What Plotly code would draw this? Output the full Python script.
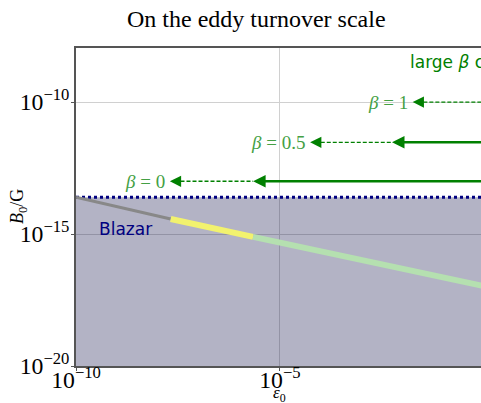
import math
import plotly.graph_objects as go

# B0 vs eps0 line, split into three coloured pieces (log-log straight segments)
seg_eps = [[1e-10, 2.1e-8], [2.1e-8, 2.2e-6], [2.2e-6, 1.0]]
seg_B = [[2.5e-14, 3.7e-15], [3.7e-15, 7.8e-16], [7.8e-16, 1.07e-17]]
seg_colors = ['#888888', '#f2f26e', '#b5e0b0']
seg_widths = [3, 6, 6]

blazar_B = 2.5e-14
B_floor = 1e-20

# arrows: label, B level, dashed tip eps, end of dashed / tip of solid eps
arrow_labels = ['0', '0.5', '1']
arrow_B = [1e-13, 3.0e-12, 1e-10]
arrow_tip = [2.0e-8, 5.5e-5, 1.8e-2]
arrow_mid = [2.2e-6, 5.6e-3, None]
arrow_right = 2.0

GREEN = '#008000'
NAVY = '#000080'
SERIF = 'Liberation Serif'
SANS = 'DejaVu Sans'

fig = go.Figure()

# excluded (shaded) blazar region
fig.add_trace(go.Scatter(
    x=[1e-11, 10, 10, 1e-11], y=[B_floor, B_floor, blazar_B, blazar_B],
    fill='toself', fillcolor='rgba(25,25,80,0.33)', line=dict(width=0),
    mode='lines', hoverinfo='skip'))
fig.add_trace(go.Scatter(
    x=[1e-10, 10], y=[blazar_B, blazar_B], mode='lines',
    line=dict(color=NAVY, width=3, dash='dot')))

for ex, by, c, w in zip(seg_eps, seg_B, seg_colors, seg_widths):
    fig.add_trace(go.Scatter(x=ex, y=by, mode='lines',
                             line=dict(color=c, width=w)))

ann = []
for lab, b, tip, mid in zip(arrow_labels, arrow_B, arrow_tip, arrow_mid):
    right = mid if mid is not None else arrow_right
    # dashed part
    fig.add_trace(go.Scatter(x=[tip * 1.3, right], y=[b, b], mode='lines',
                             line=dict(color=GREEN, width=1.3, dash='4px,2px')))
    ann.append(dict(x=math.log10(tip), y=math.log10(b), ax=math.log10(tip) + 0.3,
                    ay=math.log10(b), xref='x', yref='y', axref='x', ayref='y',
                    showarrow=True, arrowhead=2, arrowsize=1.5, arrowwidth=1.5,
                    arrowcolor=GREEN, text=''))
    if mid is not None:
        ann.append(dict(x=math.log10(mid), y=math.log10(b), ax=math.log10(arrow_right),
                        ay=math.log10(b), xref='x', yref='y', axref='x', ayref='y',
                        showarrow=True, arrowhead=2, arrowsize=1.0, arrowwidth=2.5,
                        arrowcolor=GREEN, text=''))
    ann.append(dict(x=math.log10(tip), y=math.log10(b), xref='x', yref='y',
                    text='<i>β</i> = ' + lab, showarrow=False,
                    xanchor='right', xshift=-3,
                    font=dict(family=SERIF, size=19, color='#44a044')))

ann.append(dict(x=-9.49, y=-14.81, xref='x', yref='y', text='Blazar',
                showarrow=False, xanchor='left',
                font=dict(family=SANS, size=17, color=NAVY)))
ann.append(dict(x=-1.85, y=-8.48, xref='x', yref='y', text='large <i>β</i> case',
                showarrow=False, xanchor='left',
                font=dict(family=SANS, size=17, color=GREEN)))
# title, x title and y title placed in paper coordinates (plot area 76..481 x 48..366)
ann.append(dict(x=(256 - 76) / 405, y=1 + (48 - 19) / 318, xref='paper', yref='paper',
                text='On the eddy turnover scale', showarrow=False, yanchor='middle',
                font=dict(family=SERIF, size=24, color='black')))
ann.append(dict(x=(279 - 76) / 405, y=-(394 - 366) / 318, xref='paper', yref='paper',
                text='<i>ε</i><sub>0</sub>', showarrow=False, yanchor='middle',
                font=dict(family=SERIF, size=17, color='black')))
ann.append(dict(x=-(76 - 18) / 405, y=0.5, xref='paper', yref='paper',
                text='<i>B</i><sub>0</sub>/G', showarrow=False, textangle=-90,
                xanchor='center', yanchor='middle',
                font=dict(family=SERIF, size=18, color='black')))

fig.update_layout(
    width=481, height=403,
    margin=dict(l=76, r=0, t=48, b=37),
    plot_bgcolor='white', paper_bgcolor='white',
    showlegend=False, annotations=ann,
)
fig.update_xaxes(
    type='log', range=[-10, -0.07], dtick=5, exponentformat='power',
    showgrid=True, gridcolor='#d0d0d0', gridwidth=1,
    showline=True, linecolor='#555555', linewidth=1.5, mirror=True,
    ticks='outside', ticklen=3, tickcolor='#555555', ticklabelstandoff=-10,
    tickfont=dict(family=SERIF, size=19, color='black'),
    automargin=False, zeroline=False)
fig.update_yaxes(
    type='log', range=[-20, -7.95], dtick=5, exponentformat='power',
    showgrid=True, gridcolor='#d0d0d0', gridwidth=1,
    showline=True, linecolor='#555555', linewidth=1.5,
    ticks='outside', ticklen=3, tickcolor='#555555', ticklabelstandoff=-2,
    tickfont=dict(family=SERIF, size=19, color='black'),
    automargin=False, zeroline=False)

# drop the page's default body margin so the figure fills the window exactly
fig.write_html('out.html', config={'displayModeBar': False},
               post_script="document.body.style.margin='0';"
                           "document.body.style.overflow='hidden';")
